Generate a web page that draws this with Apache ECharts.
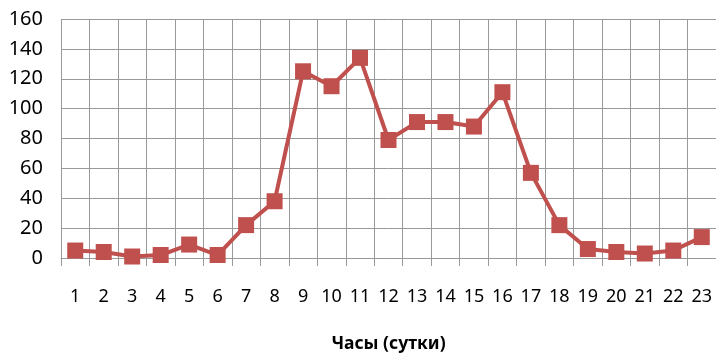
<!DOCTYPE html>
<html><head><meta charset="utf-8">
<script src="https://cdn.jsdelivr.net/npm/echarts@6/dist/echarts.min.js"></script>
<style>html,body{margin:0;padding:0;background:#fff}#c{width:716px;height:358px}</style>
</head><body><div id="c"></div>
<script>
var hours = ['1','2','3','4','5','6','7','8','9','10','11','12','13','14','15','16','17','18','19','20','21','22','23'];
var values = [5,4,1,2,9,2,22,38,125,115,134,79,91,91,88,111,57,22,6,4,3,5,14];
var yTicks = {min:0, max:160, interval:20};
var xTitle = 'Часы (сутки)';

var chart = echarts.init(document.getElementById('c'));
chart.setOption({
  animation:false,
  grid:{left:61,right:0,top:19,bottom:98},
  xAxis:{
    type:'category', data:hours, boundaryGap:true,
    name:xTitle, nameLocation:'middle', nameGap:77,
    nameTextStyle:{fontFamily:'Noto Sans',fontSize:17.5,fontWeight:'bold',color:'#000'},
    axisLine:{show:true,lineStyle:{color:'#999999',width:1}},
    axisTick:{show:true,length:8,lineStyle:{color:'#999999'}},
    axisLabel:{margin:30,fontFamily:'Noto Sans',fontSize:18,color:'#000'},
    splitLine:{show:true,lineStyle:{color:'#999999',width:1}}
  },
  yAxis:{
    type:'value', min:yTicks.min, max:yTicks.max, interval:yTicks.interval,
    axisLine:{show:false}, axisTick:{show:false},
    axisLabel:{margin:18,fontFamily:'Noto Sans',fontSize:20,color:'#000'},
    splitLine:{show:true,lineStyle:{color:'#999999',width:1}}
  },
  series:[{
    type:'line', data:values, symbol:'rect', symbolSize:16,
    lineStyle:{color:'#c0504d',width:4},
    itemStyle:{color:'#c0504d'}
  }]
});
</script></body></html>
